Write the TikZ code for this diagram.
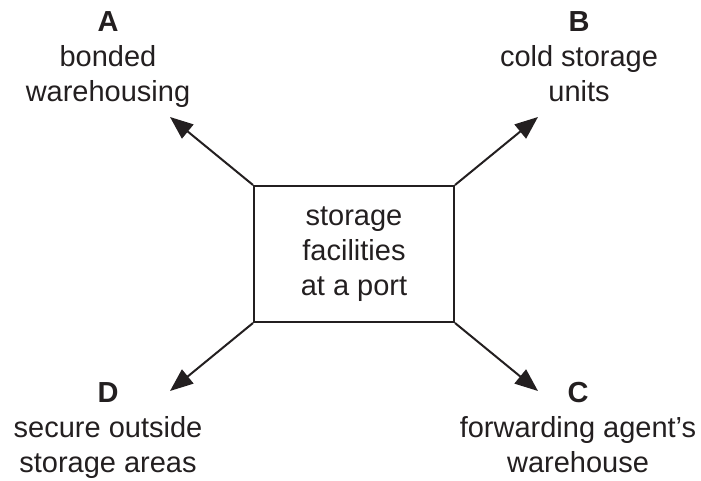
\documentclass[tikz,border=0pt]{standalone}
\usepackage{fontspec}
\setmainfont{Liberation Sans}
\usetikzlibrary{arrows.meta}
\definecolor{ink}{RGB}{35,31,32}
\begin{document}
\begin{tikzpicture}[
    x=1pt, y=1pt, color=ink,
    facility/.style={rectangle, draw, line width=2pt, minimum width=200pt, minimum height=136pt, align=center, font=\fontsize{29}{35}\selectfont},
    option/.style={anchor=north, inner sep=0pt, align=center, font=\fontsize{29}{35}\selectfont},
    link/.style={-{Triangle[length=23pt, width=18pt]}, line width=2pt}
]
    \useasboundingbox (0,0) rectangle (701,480);

    % Centre
    \node[facility] (port) at (354,226) {storage\\facilities\\at a port};

    % Options
    \node[option] (optA) at (108,469) {\textbf{A}\\bonded\\warehousing};
    \node[option] (optB) at (579,469) {\textbf{B}\\cold storage\\units};
    \node[option] (optC) at (578,98) {\textbf{C}\\forwarding agent's\\warehouse};
    \node[option] (optD) at (108,98) {\textbf{D}\\secure outside\\storage areas};

    % Arrows
    \coordinate (tipA) at (170,363);
    \coordinate (tipB) at (538,363);
    \coordinate (tipC) at (538,89);
    \coordinate (tipD) at (170,89);
    \draw[link] (port.north west) -- (tipA);
    \draw[link] (port.north east) -- (tipB);
    \draw[link] (port.south east) -- (tipC);
    \draw[link] (port.south west) -- (tipD);

\end{tikzpicture}
\end{document}
